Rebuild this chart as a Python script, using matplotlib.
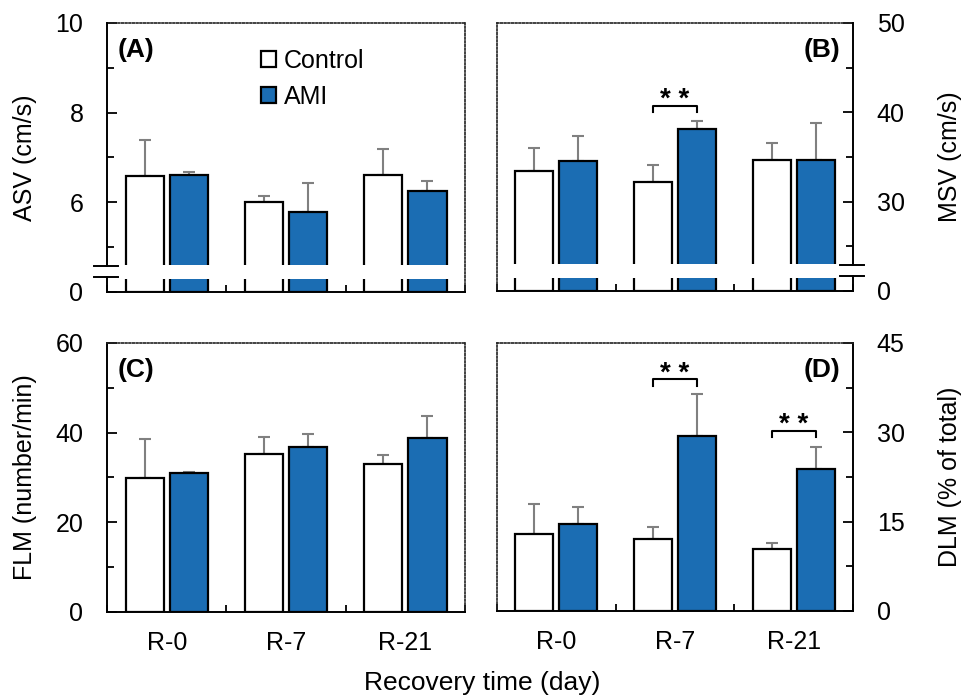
import numpy as np
import matplotlib
matplotlib.use('Agg')
import matplotlib.pyplot as plt
from matplotlib.patches import Patch, Rectangle

plt.rcParams['font.family'] = ['Liberation Sans', 'DejaVu Sans']

groups = ['R-0', 'R-7', 'R-21']
series = ['Control', 'AMI']

# panel A: ASV (cm/s)
asv_ctrl = [6.58, 6.00, 6.60]
asv_ctrl_sd = [0.80, 0.14, 0.58]
asv_ami = [6.60, 5.78, 6.25]
asv_ami_sd = [0.07, 0.65, 0.23]

# panel B: MSV (cm/s)
msv_ctrl = [33.4, 32.2, 34.7]
msv_ctrl_sd = [2.6, 1.95, 1.9]
msv_ami = [34.5, 38.1, 34.7]
msv_ami_sd = [2.9, 0.9, 4.1]

# panel C: FLM (number/min)
flm_ctrl = [29.9, 35.2, 33.0]
flm_ctrl_sd = [8.6, 3.8, 2.1]
flm_ami = [31.0, 36.8, 38.8]
flm_ami_sd = [0.3, 2.9, 5.0]

# panel D: DLM (% of total)
dlm_ctrl = [13.0, 12.05, 10.4]
dlm_ctrl_sd = [5.0, 2.1, 1.1]
dlm_ami = [14.6, 29.4, 23.8]
dlm_ami_sd = [2.8, 7.1, 3.8]

# significance brackets: (group index, bracket top)
sig_b = [(1, 40.75)]
sig_d = [(1, 38.9), (2, 30.25)]

blue = '#1b6db3'
grey = '#808080'
fs = 18
off = 0.185
bw = 0.32


def broken(lo, cut):
    # squeeze 0..cut into lo..cut so the axis starts at lo
    def fwd(v):
        v = np.asarray(v, float)
        return np.where(v < cut, lo + v * (cut - lo) / cut, v)

    def inv(p):
        p = np.asarray(p, float)
        return np.where(p < cut, (p - lo) * cut / (cut - lo), p)
    return fwd, inv


def panel(ax, ctrl, ctrl_sd, ami, ami_sd, side):
    x = np.arange(len(groups)) + 0.5
    ax.bar(x - off, ctrl, bw, color='white', edgecolor='black', linewidth=1.6, zorder=2)
    ax.bar(x + off, ami, bw, color=blue, edgecolor='black', linewidth=1.6, zorder=2)
    ax.errorbar(x - off, ctrl, yerr=[np.zeros(len(ctrl)), ctrl_sd], fmt='none',
                ecolor=grey, elinewidth=1.5, capsize=4.5, capthick=1.5, zorder=1.8)
    ax.errorbar(x + off, ami, yerr=[np.zeros(len(ami)), ami_sd], fmt='none',
                ecolor=grey, elinewidth=1.5, capsize=4.5, capthick=1.5, zorder=1.8)
    ax.set_xlim(0, 3)
    ax.set_xticks([0, 1, 2, 3])
    ax.set_xticklabels([])
    ax.set_xticks(x, minor=True)
    ax.tick_params(axis='x', which='major', direction='in', length=5, width=1.3)
    ax.tick_params(axis='x', which='minor', length=0, labelsize=fs, pad=14)
    ax.tick_params(axis='y', which='both', direction='in', width=1.3, labelsize=fs, pad=17)
    ax.tick_params(axis='y', which='major', length=7)
    ax.tick_params(axis='y', which='minor', length=5)
    ax.spines['bottom'].set_linewidth(1.4)
    other = 'left' if side == 'right' else 'right'
    for s in ['top', other]:
        ax.spines[s].set_linestyle((0, (1, 1.2)))
        ax.spines[s].set_linewidth(1.2)
        ax.spines[s].set_color('#222222')
    ax.spines[side].set_linewidth(1.4)
    if side == 'right':
        ax.yaxis.tick_right()
        ax.yaxis.set_label_position('right')


def add_break(ax, side):
    xs = 0.0 if side == 'left' else 1.0
    ax.spines[side].set_visible(False)
    ax.plot([xs, xs], [0, 0.055], color='black', lw=1.4, transform=ax.transAxes,
            clip_on=False, zorder=3)
    ax.plot([xs, xs], [0.098, 1], color='black', lw=1.4, transform=ax.transAxes,
            clip_on=False, zorder=3)
    ax.add_patch(Rectangle((0.004, 0.048), 0.992, 0.052, transform=ax.transAxes,
                           facecolor='white', edgecolor='none', zorder=2.3))
    for yy in [0.055, 0.098]:
        ax.plot([xs - 0.036, xs + 0.032], [yy, yy], color='black', lw=1.4,
                transform=ax.transAxes, clip_on=False, zorder=3)


def bracket(ax, i, top, leg):
    x0, x1 = i + 0.5 - off, i + 0.5 + off
    ax.plot([x0, x0, x1, x1], [top - leg, top, top, top - leg], color='black',
            lw=1.5, zorder=3)
    ax.annotate('* *', xy=(i + 0.5, top), xytext=(0, -1), textcoords='offset points',
                ha='center', va='baseline', fontsize=20, fontweight='bold')


fig = plt.figure(figsize=(9.65, 6.99), dpi=100)
axA = fig.add_axes([0.1109, 0.5823, 0.371, 0.3848])
axB = fig.add_axes([0.5150, 0.5837, 0.369, 0.3834])
axC = fig.add_axes([0.1109, 0.1245, 0.371, 0.3848])
axD = fig.add_axes([0.5150, 0.1259, 0.369, 0.3834])

# A
panel(axA, asv_ctrl, asv_ctrl_sd, asv_ami, asv_ami_sd, 'left')
axA.set_yscale('function', functions=broken(4.0, 4.56))
axA.set_ylim(0, 10)
axA.set_yticks([0, 6, 8, 10])
axA.set_yticklabels(['0', '6', '8', '10'])
axA.set_yticks([5, 7, 9], minor=True)
axA.yaxis.set_minor_formatter(plt.NullFormatter())
add_break(axA, 'left')
axA.set_ylabel('ASV (cm/s)', fontsize=fs)
axA.yaxis.set_label_coords(-0.196, 0.5)
axA.text(0.03, 0.90, '(A)', transform=axA.transAxes, fontsize=19,
         fontweight='bold', ha='left', va='center')
handles = [Patch(facecolor='white', edgecolor='black', linewidth=1.6),
           Patch(facecolor=blue, edgecolor='black', linewidth=1.6)]
axA.legend(handles, series, loc='upper left', bbox_to_anchor=(0.43, 0.905),
           frameon=False, fontsize=fs, handlelength=0.6, handleheight=0.6,
           handletextpad=0.3, labelspacing=0.5, borderpad=0, borderaxespad=0)

# B
panel(axB, msv_ctrl, msv_ctrl_sd, msv_ami, msv_ami_sd, 'right')
axB.set_yscale('function', functions=broken(20.0, 22.8))
axB.set_ylim(0, 50)
axB.set_yticks([0, 30, 40, 50])
axB.set_yticklabels(['0', '30', '40', '50'])
axB.set_yticks([25, 35, 45], minor=True)
axB.yaxis.set_minor_formatter(plt.NullFormatter())
add_break(axB, 'right')
axB.set_ylabel('MSV (cm/s)', fontsize=fs)
axB.yaxis.set_label_coords(1.239, 0.5)
axB.text(0.963, 0.90, '(B)', transform=axB.transAxes, fontsize=19,
         fontweight='bold', ha='right', va='center')
for i, top in sig_b:
    bracket(axB, i, top, 0.75)

# C
panel(axC, flm_ctrl, flm_ctrl_sd, flm_ami, flm_ami_sd, 'left')
axC.set_ylim(0, 60)
axC.set_yticks([0, 20, 40, 60])
axC.set_yticks([10, 30, 50], minor=True)
axC.set_xticklabels(groups, minor=True)
axC.set_ylabel('FLM (number/min)', fontsize=fs)
axC.yaxis.set_label_coords(-0.196, 0.5)
axC.text(0.03, 0.90, '(C)', transform=axC.transAxes, fontsize=19,
         fontweight='bold', ha='left', va='center')

# D
panel(axD, dlm_ctrl, dlm_ctrl_sd, dlm_ami, dlm_ami_sd, 'right')
axD.set_ylim(0, 45)
axD.set_yticks([0, 15, 30, 45])
axD.set_yticks([7.5, 22.5, 37.5], minor=True)
axD.set_xticklabels(groups, minor=True)
axD.set_ylabel('DLM (% of total)', fontsize=fs)
axD.yaxis.set_label_coords(1.239, 0.5)
axD.text(0.963, 0.90, '(D)', transform=axD.transAxes, fontsize=19,
         fontweight='bold', ha='right', va='center')
for i, top in sig_d:
    bracket(axD, i, top, 1.1)

fig.text(0.5, 0.023, 'Recovery time (day)', ha='center', va='center', fontsize=19)

fig.savefig('out.png', dpi=100)
